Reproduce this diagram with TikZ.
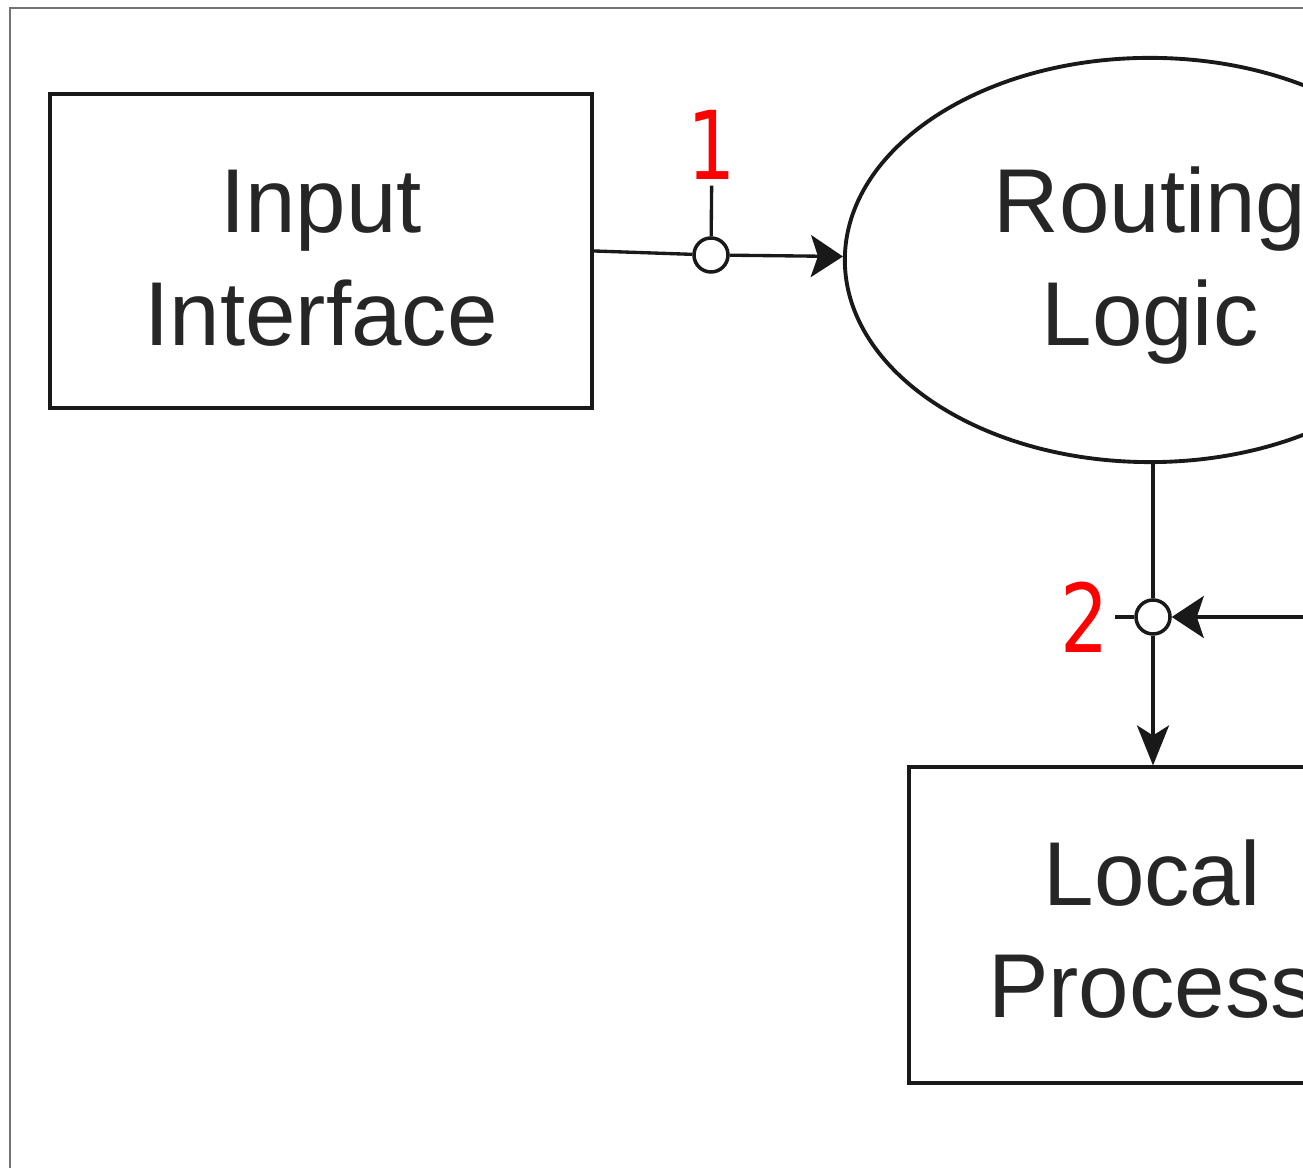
\documentclass[tikz,border=0pt]{standalone}
\usepackage{fontspec}
\setmainfont{Liberation Sans}
\newfontfamily\digitfont[FakeStretch=0.8]{DejaVu Sans}
\usetikzlibrary{shapes.geometric}
\usetikzlibrary{arrows.meta}

\begin{document}
\begin{tikzpicture}[x=0.01cm,y=-0.01cm,
  every node/.style={text=black!85},
  block/.style={draw=black!90,line width=1.1pt,rectangle,align=center,inner sep=0pt,
    text depth=0pt,font=\fontsize{25.8}{31.9}\selectfont},
  oval/.style={block,ellipse,minimum width=6.1cm,minimum height=4.04cm},
  junction/.style={draw=black!90,circle,fill=white,minimum size=0.34cm,inner sep=0pt,line width=1pt},
  tag/.style={text=red,inner sep=1.5pt,font=\digitfont\fontsize{27}{30}\selectfont},
  wire/.style={draw=black!90,line width=0.95pt},
  flow/.style={wire,-{Stealth[length=0.32cm,width=0.42cm,inset=0.07cm]}},
  drop/.style={wire,-{Stealth[length=0.4cm,width=0.32cm,inset=0.1cm]}}]
\useasboundingbox (0,0) rectangle (1303,1168);
\clip (0,0) rectangle (1303,1168);
\draw[black!55,line width=0.6pt] (10,8) rectangle (1600,1400);

\node[block,minimum width=5.42cm,minimum height=3.14cm,text height=53.5pt] (inbox) at (321,251) {Input\\Interface};
\node[oval,text height=48.4pt] (routing) at (1150,260) {Routing\\Logic};
\node[block,minimum width=4.86cm,minimum height=3.15cm,text height=52.6pt] (local) at (1152,925) {Local\\Process};
\coordinate (feed) at (1600,617);

\node[junction] (j1) at (711,255) {};
\node[junction] (j2) at (1153,617) {};
\node[tag] (lab1) at (712,145) {1};
\node[tag] (lab2) at (1085,617) {2};

\draw[wire] (inbox.east) -- (j1);
\draw[flow] (j1) -- (routing);
\draw[wire] (j1) -- (lab1);
\draw[wire] (routing.south -| j2) -- (j2);
\draw[flow] (feed) -- (j2);
\draw[drop] (j2) -- (j2 |- local.north);
\draw[wire] (j2) -- (lab2);
\end{tikzpicture}
\end{document}
